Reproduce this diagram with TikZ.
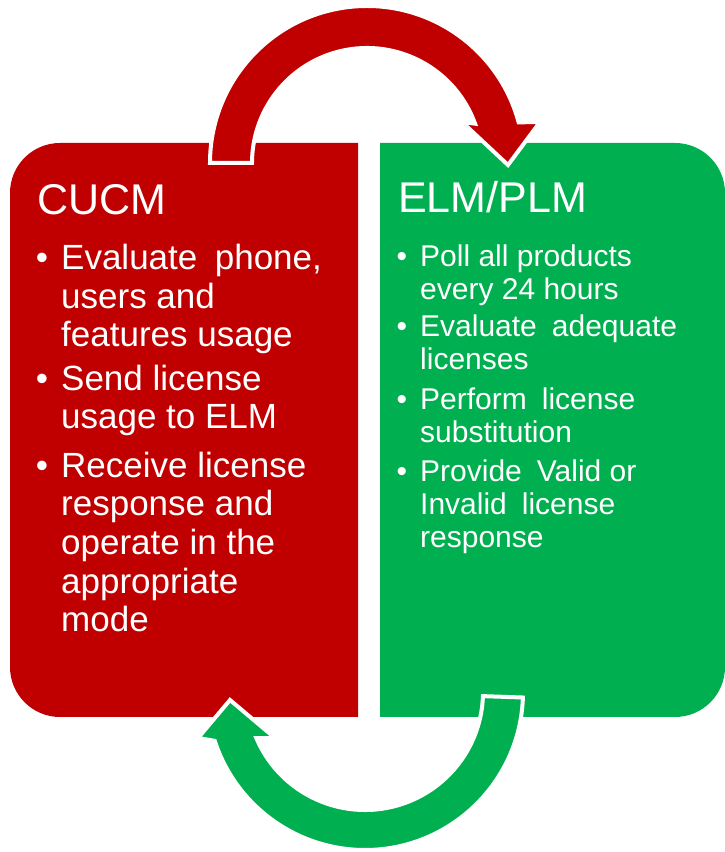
\documentclass[tikz,border=0pt]{standalone}
\usepackage{fontspec}
\setmainfont{Liberation Sans}
\usetikzlibrary{positioning}
\definecolor{cucmred}{RGB}{192,0,0}
\definecolor{elmgreen}{RGB}{0,176,80}
\newcommand{\pointmark}{\llap{\textbullet\hskip13pt}}
\newcommand{\widesp}{\hskip0.5em}

\begin{document}
\begin{tikzpicture}[x=1pt,y=1pt,
  boxtitle/.style={anchor=base west,text=white,inner sep=0pt,font=\fontsize{43}{48}\selectfont},
  redpoint/.style={anchor=base west,align=left,text=white,inner sep=0pt,font=\fontsize{35}{38.7}\selectfont},
  greenpoint/.style={anchor=base west,align=left,text=white,inner sep=0pt,font=\fontsize{30}{33}\selectfont},
  turn/.style={draw=white,line width=4pt,line join=miter}]
\useasboundingbox (0,0) rectangle (725,852);
% the two halves
\fill[cucmred](358,709)--(60,709)arc[start angle=90,end angle=180,radius=50pt]
  --(10,185)arc[start angle=180,end angle=270,radius=50pt]--(358,135)--cycle;
\fill[elmgreen](380,135)--(380,709)--(675,709)arc[start angle=90,end angle=0,radius=50pt]
  --(725,185)arc[start angle=0,end angle=-90,radius=50pt]--cycle;
% circular arrows
\coordinate (topc) at (367,689);
\coordinate (botc) at (365,160);
\filldraw[turn,fill=cucmred]([shift={(180:157)}]topc)arc[start angle=180,end angle=15,radius=157pt]
  --(540,730)--(508,687)--(462,730)--([shift={(20:115)}]topc)
  arc[start angle=20,end angle=180,radius=115pt]--cycle;
\filldraw[turn,fill=elmgreen]([shift={(-2:158)}]botc)arc[start angle=-2,end angle=-162,radius=158pt]
  --(198,114)--(230,152)--(275,114)--([shift={(-157:118)}]botc)
  arc[start angle=-157,end angle=-2,radius=118pt]--cycle;
% texts (placed at the baseline of their last line)
\node[boxtitle] (cucm) at (37,637) {CUCM};
\node[redpoint] (cucm1) at (61,505) {\pointmark Evaluate\widesp phone,\\users and\\features usage};
\node[redpoint] (cucm2) at (61,423) {\pointmark Send license\\usage to ELM};
\node[redpoint] (cucm3) at (61,220) {\pointmark Receive license\\response and\\operate in the\\appropriate\\mode};
\node[boxtitle] (elm) at (398,639) {ELM/PLM};
\node[greenpoint] (elm1) at (420,552) {\pointmark Poll all products\\every 24 hours};
\node[greenpoint] (elm2) at (420,482) {\pointmark Evaluate\widesp adequate\\licenses};
\node[greenpoint] (elm3) at (420,409) {\pointmark Perform\widesp license\\substitution};
\node[greenpoint] (elm4) at (420,304) {\pointmark Provide\widesp Valid or\\Invalid\widesp license\\response};
\end{tikzpicture}
\end{document}
